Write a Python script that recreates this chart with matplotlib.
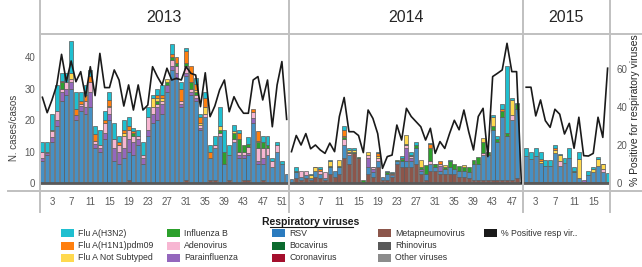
import matplotlib
matplotlib.use("Agg")
import matplotlib.pyplot as plt
import numpy as np
from matplotlib.patches import Rectangle
from matplotlib.lines import Line2D

plt.rcParams['font.family'] = ['Liberation Sans', 'DejaVu Sans']

years = ['2013', '2014', '2015']
n_weeks = [52, 49, 18]

# weekly counts, 2013 | 2014 | 2015
rsv = [7, 9, 13, 18, 26, 28, 30, 20, 23, 22, 24, 11, 10, 14, 20, 7, 6, 8, 9, 9,
       12, 6, 15, 19, 20, 22, 29, 36, 33, 24, 33, 28, 26, 17, 21, 7, 10, 15, 6, 8,
       13, 8, 7, 8, 19, 6, 5, 9, 5, 10, 6, 3,
       1.2, 2, 1, 1, 0.5, 2, 1.5, 0.5, 2, 2, 2, 4, 3, 0, 0, 0, 2, 1.5, 2, 1,
       2, 0.5, 1, 2, 2, 2, 5, 1, 2, 2, 1, 1, 1.5, 2, 1.5, 2, 2, 2, 5, 5,
       8, 8, 16, 12, 20, 14, 19, 22, 0,
       8, 7, 8, 6, 5, 5, 9, 5, 6, 7.5, 3, 1, 0, 2, 3, 5, 3, 0.5]
para = [1, 0.5, 1.5, 2, 3, 2, 2, 1.5, 1.5, 2, 5, 1.5, 1, 2, 2, 4, 4, 3, 4, 4,
        2, 2, 2, 3, 4, 3, 2, 1, 2, 1, 1, 1, 1, 0.5, 0, 0, 0, 0, 0, 0,
        0, 1, 1, 0.5, 1.5, 1, 2, 0, 0, 0, 0, 0,
        0, 0, 0, 0, 0, 0, 0, 0, 0, 0, 0, 0, 0, 0, 0, 0, 3, 1, 0, 0,
        0, 0, 0, 0, 4, 1, 0, 0.5, 0, 0, 0, 1.5, 0, 0, 0, 0, 0, 0, 0, 0,
        0, 0, 0, 0, 0, 0, 0, 0, 0,
        0, 0, 0, 0, 0, 0, 0, 0, 0, 0, 0, 0, 0.5, 0, 0, 0, 0, 0]
adeno = [2, 0.5, 2, 3, 1, 2, 1, 0, 0.5, 2, 3, 1, 1, 3, 2, 3, 2, 4, 3, 2,
         1, 1, 4, 2, 1, 1, 0, 2, 2, 1, 2, 1, 1, 1, 1, 0, 1, 1, 0, 0,
         1, 1, 1, 2, 2, 4, 3, 2, 2, 2, 0, 0,
         0, 0, 2, 1.5, 0, 0, 1, 2, 0, 0, 0, 2, 0.5, 0, 0, 0, 1, 0.5, 1, 0,
         0, 0.5, 0, 0, 1, 0.5, 0, 0, 0, 1, 0, 0.5, 0, 0, 0, 0, 0, 0, 0, 0,
         0.5, 0, 0, 0, 0, 0, 1.5, 0, 0,
         0, 0, 0, 0, 0, 0, 0, 1.5, 0, 0, 0, 0, 0, 0, 0, 0, 1, 0]
flu_b = [0, 0, 0, 0, 2, 0, 0, 0, 0, 0, 0, 0, 0, 0, 0, 0, 0, 0, 0, 1,
         0, 0, 0, 0, 1, 0, 1, 1, 1, 0, 1, 2, 1, 0, 0, 0, 0, 1, 4, 0,
         2, 4, 2, 1, 0, 2, 2, 1, 0, 0, 0, 0,
         0, 0.5, 0, 0, 0, 0, 0, 0, 0.5, 0, 0.5, 0.5, 0.5, 0.5, 0.4, 1, 0, 0, 0, 0,
         0.5, 0, 0.3, 0.6, 0.5, 0.5, 1, 0.5, 2.7, 4, 1, 0, 0.7, 2, 1.5, 1.4, 1.2, 1.7, 1.3, 2.4,
         3.5, 1, 1, 1, 2, 1, 0, 1.5, 0,
         0, 0, 0, 0, 0, 0, 0, 0, 0, 0, 0.5, 0, 0, 0, 0, 0, 0, 0]
flu_ns = [0, 0, 0.5, 0, 0, 0, 2, 0, 0, 0, 0, 0, 0, 0, 0.5, 0, 0, 1, 0, 0,
          0, 0, 0, 3, 1, 1, 1, 0, 0, 0, 0, 0, 0.5, 0.5, 2, 0, 0, 1, 0, 0,
          0.5, 0, 0, 0, 0, 0.5, 0, 0, 0, 0, 0, 0,
          0, 0, 0, 0, 1, 1, 0, 0, 1.5, 0, 1.8, 0.5, 0.5, 0.5, 0, 0, 1, 0.2, 0.5, 0,
          0, 0, 0, 0.5, 2.7, 0, 0, 2.3, 0, 0, 0, 0, 0.5, 0, 0, 0, 0.5, 0, 0, 0,
          1.2, 0, 3, 0, 0, 0, 5, 0, 0,
          0, 0, 0, 0.5, 0, 0, 1, 2, 0, 0, 0, 6, 0, 0, 1, 2, 1.5, 0]
h1n1 = [0, 0, 0, 0, 0.5, 0, 0, 2, 1, 2, 2, 2, 0, 1, 2, 0, 1, 1, 1, 0.5,
        0, 0, 0, 0, 1, 1, 0, 1, 2, 4, 4, 5, 2, 2, 3, 2, 0, 0, 0, 0,
        0, 2, 0, 0, 1, 3, 0, 0, 0, 0, 0, 0,
        0, 0, 0, 0, 0, 0, 0.5, 0, 0, 0, 0, 2, 0, 0, 0, 0, 0, 0, 1, 0,
        0, 0.3, 0, 0, 0, 0, 0, 0, 0, 1.5, 0, 1, 0, 0, 0, 0, 0, 0, 0, 0,
        0, 0, 0, 0, 0.5, 0, 0, 0, 0,
        0, 0, 0, 0.5, 0, 0, 0.5, 0, 0, 0, 0, 0, 0, 0, 0, 0.3, 0, 0]
h3n2 = [3, 3, 5, 8, 2.5, 3, 10, 5.5, 3, 3, 2, 2.5, 5, 3, 2.5, 5, 2, 3, 3, 1,
        2, 4, 3, 1, 2, 3, 0, 3, 0, 2, 1, 0, 2, 1, 2, 2, 3, 6, 7, 3,
        2, 1, 0, 2, 0, 0, 2, 3, 1, 1, 1, 0,
        0, 1, 0, 0, 0.5, 0.2, 0.7, 0, 0.3, 0, 0, 1, 0.5, 0.5, 0, 0, 0, 0, 0.5, 0,
        0.5, 0.3, 0, 0.5, 0, 1, 1, 0, 0, 0.3, 0.2, 0, 0, 0.3, 0, 0, 0, 0, 0, 0,
        0, 0, 0.6, 1, 1.5, 21, 0.5, 0.3, 0,
        2.5, 2.5, 2.5, 2.5, 1.7, 1.7, 1, 0.2, 1.5, 3, 1.2, 2.5, 0, 1.4, 0.7, 0.5, 0.2, 2.8]
metap = [0, 0, 0, 0, 0, 0, 0, 0, 0, 0, 0, 0, 0, 0, 0, 0, 0, 0, 1, 0,
         0, 0, 0, 0, 0, 0, 0, 0, 0, 0, 1, 0, 0, 0, 0, 1, 1, 0, 0, 1,
         0, 0, 1, 1, 0, 0, 1, 0, 0, 0, 0, 0,
         0, 1.5, 1, 1.5, 1, 2, 1.5, 1, 3, 2, 3, 8, 6, 9.5, 8, 0, 3, 2, 5, 1,
         1, 2, 6, 5, 5, 5, 6, 3, 1, 4, 4, 3, 3, 3, 3, 2, 2, 1.5, 1, 1,
         1, 1, 1, 1, 1, 1, 1, 1.5, 0,
         0.5, 0.5, 0.5, 0.5, 0.5, 0.5, 0.5, 0.5, 0.5, 0.5, 0.5, 0.5, 0.5, 0.5, 0.5, 0.5, 0.5, 0]
zeros = [0] * 119
boca = zeros
corona = zeros
rhino = zeros
other = zeros

# % positive for respiratory viruses
pct_2013 = [45.1, 37, 43.7, 51.6, 67.7, 53.3, 64.2, 53.3, 58.6, 45.4,
            61.2, 46, 68.2, 50.2, 50.2, 59.5, 54.2, 40.5, 51.6, 38.4,
            51.6, 38.4, 41, 61.2, 56, 51.6, 60.4, 54.2, 55.1, 54.2,
            61.2, 57.7, 56.8, 40.2, 58, 34.9, 40.5, 49, 54.2, 37.5,
            45.4, 40.2, 36.7, 36.7, 54.2, 56, 43.7, 54.2, 29.6, 51.6, 63.9, 33.5]
pct_2014 = [16.5, 25, 20, 26, 18, 20, 17.4, 15.6, 21, 16.5,
            35, 45, 27, 27, 25, 16, 38.4, 34, 26, 7.7,
            13.9, 14.7, 30.5, 22.6, 39.3, 35, 32.3, 29.6, 22.6, 28.8,
            15.6, 21.8, 18.2, 26, 33, 28, 38.4, 27, 17.4, 35,
            39.3, 13.9, 56, 57.7, 59.5, 73.5, 58.6, 58.6, 0]
pct_2015 = [50.4, 50.4, 35.3, 43.7, 32.8, 29.3, 38.8, 36.2, 25.8, 31.4,
            18.3, 34.6, 14.4, 14.2, 15.6, 34.6, 24, 60.4]

# bottom -> top stacking
series = [
    ('Other viruses', other, '#8c8c8c'),
    ('Rhinovirus', rhino, '#595959'),
    ('Metapneumovirus', metap, '#8c564b'),
    ('Coronavirus', corona, '#a50f2d'),
    ('Bocavirus', boca, '#0b6b2e'),
    ('RSV', rsv, '#4690c4'),
    ('Parainfluenza', para, '#9467bd'),
    ('Adenovirus', adeno, '#f7b6d2'),
    ('Influenza B', flu_b, '#2ca02c'),
    ('Flu A Not Subtyped', flu_ns, '#ffd94f'),
    ('Flu A(H1N1)pdm09', h1n1, '#ff7f0e'),
    ('Flu A(H3N2)', h3n2, '#1fbfd0'),
]
colors = {name: c for name, _, c in series}

W, H = 642, 267
fig = plt.figure(figsize=(W / 100, H / 100), dpi=100)
ax = fig.add_axes([40 / W, 1 - 191 / H, 570 / W, 157 / H])

x = np.arange(sum(n_weeks))
bottom = np.zeros(len(x))
for name, vals, c in series:
    v = np.array(vals, dtype=float)
    m = v > 0
    ax.bar(x[m], v[m], bottom=bottom[m], width=0.82, color=c,
           edgecolor='#5a5a5a', linewidth=0.5, zorder=2)
    bottom += v

ax.set_xlim(-0.5, len(x) - 0.5)
ax.set_ylim(-2.5, 47.3)
ax.axhline(0, color='#595959', lw=2, zorder=3)
for s in ax.spines.values():
    s.set_visible(False)

# week tick labels
ticks, labels = [], []
start = 0
for n in n_weeks:
    for wk in range(3, n + 1, 4):
        ticks.append(start + wk - 1)
        labels.append(str(wk))
    start += n
ax.set_xticks(ticks)
ax.set_xticklabels(labels, fontsize=6.5, color='#404040')
ax.set_yticks([0, 10, 20, 30, 40])
ax.tick_params(axis='both', length=0, labelsize=7, labelcolor='#595959')
ax.tick_params(axis='x', pad=4)

ax2 = ax.twinx()
ax2.set_ylim(-4.2, 78.4)
start = 0
for n, pct in zip(n_weeks, [pct_2013, pct_2014, pct_2015]):
    ax2.plot(np.arange(start, start + n), pct, color='#1a1a1a', lw=1.2, zorder=4)
    start += n
ax2.set_yticks([0, 20, 40, 60])
ax2.tick_params(axis='y', length=0, labelsize=7, labelcolor='#595959', pad=5)
for s in ax2.spines.values():
    s.set_visible(False)
ax2.set_xlim(-0.5, len(x) - 0.5)

# frame lines (pixel coords)
def px_line(x0, y0, x1, y1):
    fig.add_artist(Line2D([x0 / W, x1 / W], [1 - y0 / H, 1 - y1 / H],
                          color='#c0c0c0', lw=1.4))

px_line(40, 34, 642, 34)
px_line(8, 191, 642, 191)
for xp in [40, 289, 523, 610]:
    px_line(xp, 0, xp, 212)

for yr, cx in zip(years, [164, 406, 566]):
    fig.text(cx / W, 1 - 18 / H, yr, ha='center', va='center', fontsize=11.5, color='#262626')

fig.text(14 / W, 1 - 128 / H, 'N. cases/casos', rotation=90, ha='center', va='center',
         fontsize=7, color='#404040')
fig.text(635 / W, 1 - 110 / H, '% Positive for respiratory viruses', rotation=90,
         ha='center', va='center', fontsize=7.5, color='#262626')

# legend
fig.text(311 / W, 1 - 222 / H, 'Respiratory viruses', ha='center', va='center',
         fontsize=7.5, fontweight='bold', color='#1a1a1a')
px_line(270, 227, 353, 227)
fig.artists[-1].set_color('#1a1a1a')
fig.artists[-1].set_linewidth(0.8)

legend_cols = [
    ['Flu A(H3N2)', 'Flu A(H1N1)pdm09', 'Flu A Not Subtyped'],
    ['Influenza B', 'Adenovirus', 'Parainfluenza'],
    ['RSV', 'Bocavirus', 'Coronavirus'],
    ['Metapneumovirus', 'Rhinovirus', 'Other viruses'],
    ['% Positive resp vir..'],
]
colors['RSV'] = '#2a7bbf'
colors['% Positive resp vir..'] = '#1a1a1a'
col_x = [61, 167, 272, 378, 484]
row_y = [233, 245.5, 258]
for cx, names in zip(col_x, legend_cols):
    for ry, name in zip(row_y, names):
        fig.add_artist(Rectangle((cx / W, 1 - (ry + 4) / H), 13 / W, 8 / H,
                                 facecolor=colors[name], edgecolor='none'))
        fig.text((cx + 17) / W, 1 - ry / H, name, ha='left', va='center',
                 fontsize=6.3, color='#333333')

fig.savefig('out.png', dpi=100)
